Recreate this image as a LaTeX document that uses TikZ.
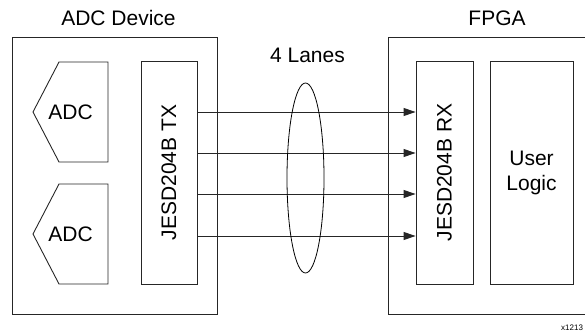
\documentclass[tikz,border=0pt]{standalone}
\usepackage{fontspec}
\setmainfont{Liberation Sans}
\setsansfont{Liberation Sans}
\usetikzlibrary{arrows.meta}
\tikzset{
  box/.style={draw=black!85, line width=0.9pt, inner sep=0pt, font=\fontsize{21}{25}\selectfont},
  lane/.style={draw=black!85, line width=0.9pt, -{Triangle[length=12pt,width=8pt]}},
  title/.style={font=\fontsize{21}{25}\selectfont, inner sep=0pt},
}
\begin{document}
\begin{tikzpicture}[x=1pt,y=-1pt]
\useasboundingbox (0,0) rectangle (585,334);
\clip (0,0) rectangle (585,334);
% outer boxes
\node[box, minimum width=205pt, minimum height=277pt] (dev) at (114.5,175.5) {};
\node[box, minimum width=205pt, minimum height=277pt] (fpga) at (490.5,175.5) {};
\node[title] (devt) at (118.5,18) {ADC Device};
\node[title] (fpgat) at (497,18) {FPGA};
% ADC pentagons
\draw[black!85, line width=0.9pt] (59,62) -- (108,62) -- (108,162) -- (59,162) -- (33,112) -- cycle;
\draw[black!85, line width=0.9pt] (59,184) -- (108,184) -- (108,284) -- (59,284) -- (33,234) -- cycle;
\node[title] (adc1) at (70.5,112) {ADC};
\node[title] (adc2) at (70.5,234) {ADC};
% TX / RX / User Logic
\node[box, minimum width=56pt, minimum height=223pt] (tx) at (169,172.5) {};
\node[title, rotate=90] (txt) at (tx.center) {JESD204B TX};
\node[box, minimum width=57pt, minimum height=223pt] (rx) at (444.5,172.5) {};
\node[title, rotate=90] (rxt) at (rx.center) {JESD204B RX};
\node[box, minimum width=83pt, minimum height=223pt, align=center] (ul) at (531.5,172.5) {User\\[0pt]Logic};
% lanes
\coordinate (l1) at (0,112);
\coordinate (l2) at (0,153);
\coordinate (l3) at (0,194);
\coordinate (l4) at (0,236);
\draw[lane] (tx.east |- l1) -- (rx.west |- l1);
\draw[lane] (tx.east |- l2) -- (rx.west |- l2);
\draw[lane] (tx.east |- l3) -- (rx.west |- l3);
\draw[lane] (tx.east |- l4) -- (rx.west |- l4);
% ellipse and label
\draw[black, line width=0.8pt] (305.5,178) ellipse [x radius=18.5, y radius=95];
\node[title] (lanes) at (307.5,55) {4 Lanes};
\node[font=\fontsize{8}{9}\selectfont, inner sep=0pt, anchor=west] (fig) at (561,328) {x1213};
\end{tikzpicture}
\end{document}
